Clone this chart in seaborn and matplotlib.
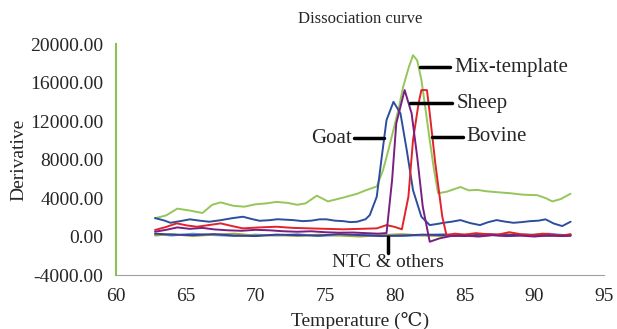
import numpy as np
import pandas as pd
import matplotlib.pyplot as plt
import seaborn as sns

sns.set_style("white")
plt.rcParams['font.family'] = ['Liberation Serif', 'DejaVu Serif']

# values
mix_t = [62.8, 63.6, 64.4, 65.3, 66.2, 66.9, 67.5, 68.4, 69.2, 70.0, 70.8, 71.5, 72.3,
         73.0, 73.6, 74.4, 75.2, 76.3, 77.3, 77.9, 78.7, 79.15, 79.5, 79.9, 80.3, 80.6,
         81.0, 81.3, 81.6, 81.9, 82.2, 82.5, 82.8, 83.1, 83.7, 84.2, 84.7, 85.3, 85.9,
         86.6, 87.4, 88.3, 89.2, 90.2, 90.8, 91.3, 91.9, 92.6]
mix_v = [1900, 2200, 2900, 2700, 2450, 3300, 3550, 3200, 3100, 3350, 3450, 3600, 3500,
         3300, 3450, 4250, 3650, 4050, 4450, 4800, 5200, 6900, 8800, 11100, 13500, 15600,
         17600, 18850, 18300, 16300, 13200, 10000, 7000, 4500, 4650, 4900, 5150, 4800, 4850,
         4700, 4600, 4500, 4350, 4300, 4000, 3650, 3900, 4450]

goat_t = [62.8, 63.5, 63.9, 64.6, 65.3, 66.0, 66.7, 67.5, 68.3, 69.1, 69.8, 70.3, 71.0,
          71.6, 72.2, 72.7, 73.4, 74.0, 74.6, 75.1, 75.7, 76.3, 76.8, 77.3, 77.9, 78.2,
          78.7, 79.06, 79.4, 79.9, 80.4, 80.85, 81.3, 81.9, 82.5, 83.0, 83.5, 84.1, 84.7,
          85.4, 86.1, 86.7, 87.3, 87.9, 88.5, 89.1, 89.7, 90.3, 90.8, 91.4, 92.0, 92.6]
goat_v = [1920, 1650, 1430, 1600, 1790, 1650, 1540, 1700, 1900, 2060, 1800, 1640, 1700,
          1800, 1750, 1710, 1600, 1650, 1790, 1790, 1650, 1600, 1500, 1540, 1800, 2230,
          4140, 8290, 12100, 14000, 12800, 8990, 4830, 2060, 1190, 1300, 1430, 1550, 1710,
          1400, 1190, 1500, 1710, 1550, 1430, 1500, 1600, 1650, 1790, 1350, 1090, 1540]

sheep_t = [62.8, 63.6, 64.4, 65.3, 66.2, 67.0, 68.0, 69.0, 70.0, 71.0, 72.0, 73.0, 74.0,
           75.0, 76.0, 77.0, 78.0, 78.8, 79.4, 79.8, 80.1, 80.7, 81.2, 81.6, 82.0, 82.5,
           83.2, 84.0, 85.0, 86.0, 87.0, 88.0, 89.0, 90.0, 91.0, 92.0, 92.6]
sheep_v = [500, 700, 950, 800, 900, 750, 650, 600, 700, 650, 550, 500, 550,
           450, 400, 420, 350, 300, 360, 5870, 11760, 15220, 12800, 8290, 3100, -540,
           -190, 50, 100, 0, 150, 50, 100, 0, 120, 50, 80]

bovine_t = [62.8, 63.6, 64.35, 65.1, 65.8, 66.7, 67.5, 68.3, 69.1, 70.3, 71.5, 72.7, 73.9,
            75.1, 76.3, 77.5, 78.7, 79.4, 80.0, 80.5, 80.97, 81.3, 81.7, 81.9, 82.3, 82.5,
            82.9, 83.4, 83.7, 84.3, 85.0, 85.8, 86.6, 87.4, 88.2, 89.0, 89.8, 90.6, 91.4,
            92.0, 92.6]
bovine_v = [680, 1000, 1370, 1150, 1020, 1200, 1370, 1100, 850, 950, 1020, 900, 850,
            800, 750, 800, 850, 1190, 1000, 750, 4140, 10030, 13840, 15220, 15220, 12800,
            7600, 2060, 150, 300, 200, 350, 250, 200, 450, 250, 150, 300, 200, 100, 250]

ntc_t = [62.8, 64.0, 65.5, 67.0, 68.5, 70.0, 71.5, 73.0, 74.5, 76.0, 77.5, 79.0,
         80.5, 82.0, 83.5, 85.0, 86.5, 88.0, 89.5, 91.0, 92.6]
ntc_a = [250, 100, 300, 150, 50, 200, 100, 250, 50, 150, 200, 100,
         50, 150, 250, 100, 200, 50, 150, 300, 100]
ntc_b = [100, 250, 50, 200, 300, 100, 150, 50, 200, 100, 0, 150,
         250, 100, 50, 200, 100, 250, 100, 50, 200]
ntc_c = [300, 200, 150, 250, 100, 50, 200, 150, 100, 250, 150, 50,
         100, 200, 150, 50, 250, 150, 200, 100, 150]

series = [("Mix-template", mix_t, mix_v), ("Goat", goat_t, goat_v),
          ("Sheep", sheep_t, sheep_v), ("Bovine", bovine_t, bovine_v),
          ("NTC1", ntc_t, ntc_a), ("NTC2", ntc_t, ntc_b), ("NTC3", ntc_t, ntc_c)]
df = pd.concat([pd.DataFrame({"Temperature": t, "Derivative": v, "sample": name})
                for name, t, v in series], ignore_index=True)

colors = {"Mix-template": "#94c65a", "Goat": "#2d4e9e", "Sheep": "#7a1f82",
          "Bovine": "#e3222a", "NTC1": "#5d9fd6", "NTC2": "#9cab3c", "NTC3": "#3a3f99"}
order = ["NTC1", "NTC2", "NTC3", "Mix-template", "Goat", "Bovine", "Sheep"]

fig = plt.figure(figsize=(6.17, 3.29), dpi=100)
ax = fig.add_axes([0.188, 0.164, 0.791, 0.702])
sns.lineplot(data=df, x="Temperature", y="Derivative", hue="sample",
             hue_order=order, palette=colors, linewidth=1.4, legend=False,
             estimator=None, sort=False, ax=ax)

ax.set_xlim(60, 95)
ax.set_ylim(-4000, 20000)
ax.set_xticks(np.arange(60, 96, 5))
ax.set_yticks(np.arange(-4000, 20001, 4000))
ax.set_yticklabels([f"{v:.2f}" for v in np.arange(-4000, 20001, 4000)])
ax.tick_params(labelsize=14, length=0, pad=9)
ax.set_title("Dissociation curve", fontsize=12, pad=15)
ax.set_xlabel("Temperature (℃)", fontsize=14, labelpad=5)
ax.set_ylabel("Derivative", fontsize=14, labelpad=2)

for s in ["top", "right"]:
    ax.spines[s].set_visible(False)
ax.spines["left"].set_color("#8cc152")
ax.spines["left"].set_linewidth(1.5)
ax.spines["bottom"].set_color("#a0a0a0")

# labels with black leader lines
ax.plot([81.8, 83.95], [17610, 17610], color="black", lw=2.5)
ax.text(84.3, 17610, "Mix-template", fontsize=15, va="center", ha="left")
ax.plot([81.1, 84.1], [13870, 13870], color="black", lw=2.5)
ax.text(84.4, 13870, "Sheep", fontsize=15, va="center", ha="left")
ax.plot([82.65, 84.9], [10370, 10370], color="black", lw=2.5)
ax.text(85.1, 10370, "Bovine", fontsize=15, va="center", ha="left")
ax.plot([77.1, 79.2], [10230, 10230], color="black", lw=2.5)
ax.text(76.9, 10230, "Goat", fontsize=15, va="center", ha="right")
ax.plot([79.5, 79.5], [0, -1700], color="black", lw=2.5)
ax.text(79.5, -2650, "NTC & others", fontsize=14, va="center", ha="center")

fig.savefig("out.png", dpi=100)
